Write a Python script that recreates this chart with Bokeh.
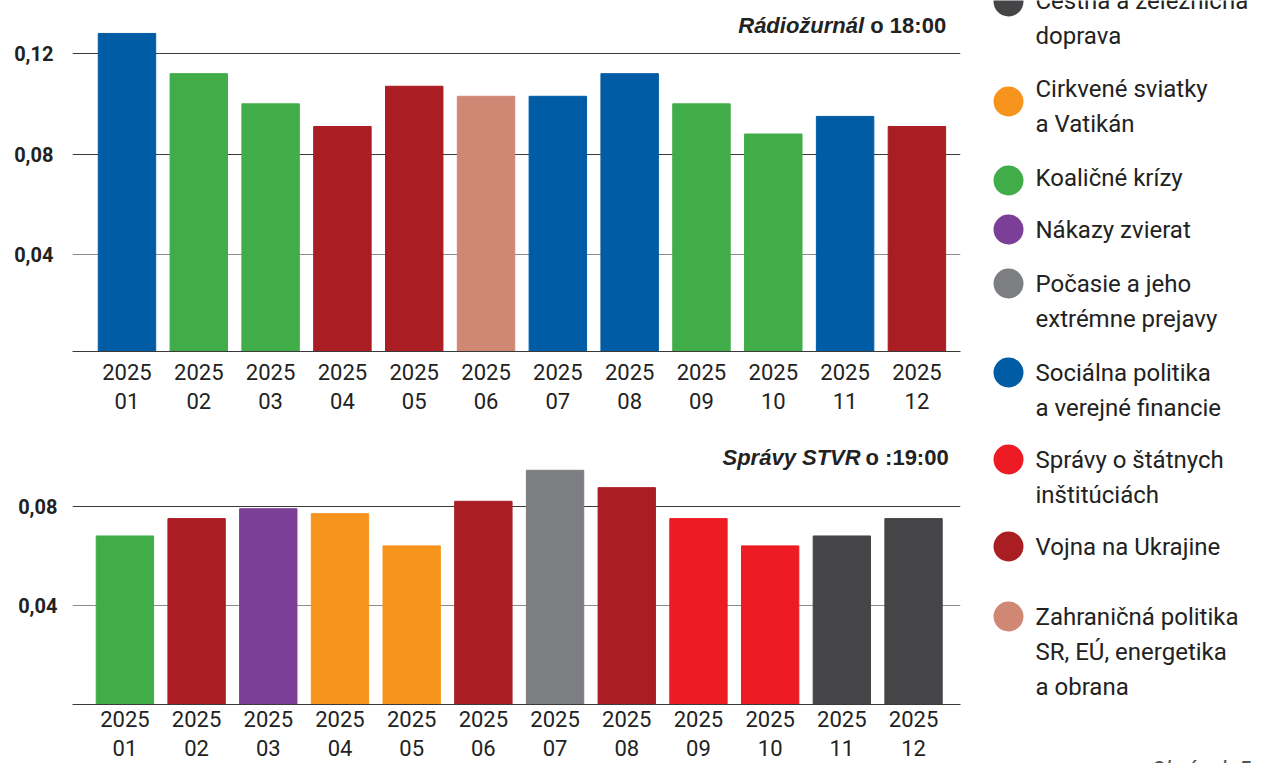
from bokeh.plotting import figure
from bokeh.layouts import row, column
from bokeh.models import Range1d, FixedTicker, CustomJSTickFormatter, Label, ColumnDataSource, Grid
from bokeh.embed import file_html
from bokeh.resources import INLINE
from bokeh.core.properties import value

# ---------------- data ----------------
month_labels = ["2025\n01", "2025\n02", "2025\n03", "2025\n04", "2025\n05", "2025\n06",
                "2025\n07", "2025\n08", "2025\n09", "2025\n10", "2025\n11", "2025\n12"]

topic_names = [
    "Cestná a železničná\ndoprava",
    "Cirkvené sviatky\na Vatikán",
    "Koaličné krízy",
    "Nákazy zvierat",
    "Počasie a jeho\nextrémne prejavy",
    "Sociálna politika\na verejné financie",
    "Správy o štátnych\ninštitúciách",
    "Vojna na Ukrajine",
    "Zahraničná politika\nSR, EÚ, energetika\na obrana",
]
topic_colors = ["#454547", "#f7941d", "#41ad49", "#7b3f98", "#7d7e82",
                "#005ca4", "#ed1c24", "#aa1d23", "#d08874"]

radio_values = [0.128, 0.112, 0.100, 0.091, 0.107, 0.103, 0.103, 0.112, 0.100, 0.088, 0.095, 0.091]
radio_topics = [5, 2, 2, 7, 7, 8, 5, 5, 2, 2, 5, 7]

stvr_values = [0.068, 0.075, 0.079, 0.077, 0.064, 0.082, 0.0945, 0.0875, 0.075, 0.064, 0.068, 0.075]
stvr_topics = [2, 7, 3, 1, 1, 7, 4, 7, 6, 6, 0, 0]

radio_ticks = [0.04, 0.08, 0.12]
stvr_ticks = [0.04, 0.08]

# legend layout (screen px from top): first text line of each item, and its marker
legend_rows = [0, 88, 177, 229, 283, 372, 459, 546, 616]
legend_marker_rows = [1, 101, 180, 229, 283, 372, 459, 546, 616]

TEXT = "#222222"
LINE = "#3a3a3a"
LIGHT_LINE = "#8c8c8c"
y_fmt = CustomJSTickFormatter(code="return tick.toFixed(2).replace('.', ',');")


def bar_chart(values, topics, ticks, x_range, y_range, h, mb_left, mb_right, mb_bottom, standoff):
    p = figure(width=985, height=h, x_range=x_range, y_range=y_range,
               output_backend="svg", toolbar_location=None,
               min_border_left=mb_left, min_border_right=mb_right,
               min_border_top=0, min_border_bottom=mb_bottom)
    src = ColumnDataSource(dict(x=list(range(len(values))), top=values,
                                color=[topic_colors[t] for t in topics]))
    p.vbar(x="x", top="top", bottom=0, width=0.8, color="color", source=src)
    p.outline_line_color = None
    p.background_fill_color = None
    p.border_fill_color = "white"
    p.xgrid.visible = False
    p.yaxis.ticker = FixedTicker(ticks=ticks)
    p.yaxis.formatter = y_fmt
    # upper grid lines dark, lowest one lighter (as in the original)
    p.ygrid.ticker = FixedTicker(ticks=ticks[1:])
    p.ygrid.grid_line_color = LINE
    p.ygrid.grid_line_width = 1
    p.ygrid.level = "underlay"
    p.add_layout(Grid(dimension=1, ticker=FixedTicker(ticks=ticks[:1]),
                      grid_line_color=LIGHT_LINE, grid_line_width=1.2, level="underlay"))
    p.yaxis.axis_line_color = None
    p.yaxis.major_tick_line_color = None
    p.yaxis.minor_tick_line_color = None
    p.yaxis.major_label_text_font = "Roboto"
    p.yaxis.major_label_text_font_style = "bold"
    p.yaxis.major_label_text_font_size = "20px"
    p.yaxis.major_label_text_color = TEXT
    p.xaxis.ticker = FixedTicker(ticks=list(range(len(values))))
    p.xaxis.major_label_overrides = {i: m for i, m in enumerate(month_labels)}
    p.xaxis.major_label_text_font = "Roboto"
    p.xaxis.major_label_text_font_size = "22px"
    p.xaxis.major_label_text_color = TEXT
    p.xaxis.major_label_text_line_height = 1.16
    p.xaxis.major_label_standoff = standoff
    p.xaxis.axis_line_color = LINE
    p.xaxis.axis_line_width = 1.2
    p.xaxis.major_tick_line_color = None
    p.xaxis.minor_tick_line_color = None
    return p


# ---------- top chart: Rádiožurnál ----------
p1 = bar_chart(radio_values, radio_topics, radio_ticks,
               Range1d(-0.7586, 11.607), Range1d(0.0015, 0.1411),
               432, 63, 25, 81, 2)
p1.yaxis.major_label_standoff = 13
p1.add_layout(Label(x=11.407, y=0.126, text="o 18:00", text_align="right",
                    text_font="Liberation Sans", text_font_style="bold",
                    text_font_size="22px", text_color=TEXT))
p1.add_layout(Label(x=11.407, y=0.126, x_offset=-82, text="Rádiožurnál", text_align="right",
                    text_font="Liberation Sans", text_font_style="bold italic",
                    text_font_size="22px", text_color=TEXT))

# ---------- bottom chart: Správy STVR ----------
p2 = bar_chart(stvr_values, stvr_topics, stvr_ticks,
               Range1d(-0.731, 11.655), Range1d(0, 0.10975),
               331, 72, 15, 58, -4)
p2.yaxis.major_label_standoff = 9
p2.add_layout(Label(x=11.49, y=0.0945, text="o :19:00", text_align="right",
                    text_font="Liberation Sans", text_font_style="bold",
                    text_font_size="22px", text_color=TEXT))
p2.add_layout(Label(x=11.49, y=0.0945, x_offset=-88, text="Správy STVR", text_align="right",
                    text_font="Liberation Sans", text_font_style="bold italic",
                    text_font_size="22px", text_color=TEXT))

# ---------- legend ----------
p3 = figure(width=276, height=763, x_range=Range1d(985, 1261), y_range=Range1d(763, 0),
            output_backend="svg", toolbar_location=None, x_axis_type=None, y_axis_type=None,
            min_border=0, min_border_left=0, min_border_right=0, min_border_top=0, min_border_bottom=0)
p3.outline_line_color = None
p3.grid.visible = False

LINE_H = 35
line_y, line_txt = [], []
for name, y0 in zip(topic_names, legend_rows):
    for k, t in enumerate(name.split("\n")):
        line_y.append(y0 + k * LINE_H)
        line_txt.append(t)

p3.scatter(x=[1008] * len(legend_marker_rows), y=legend_marker_rows, size=30,
           color=topic_colors, line_color=None)
p3.text(x=[1035] * len(line_y), y=line_y, text=line_txt, text_baseline="middle",
        text_align="left", text_font=value("Roboto"), text_font_size="24px", text_color=TEXT)
p3.text(x=[1250], y=[770], text=["Obrázok 5"], text_align="right", text_baseline="alphabetic",
        text_font=value("Roboto"), text_font_style="italic", text_font_size="23px",
        text_color="#555555")

layout = row(column(p1, p2), p3)
open("out.html", "w").write(file_html(layout, INLINE))
